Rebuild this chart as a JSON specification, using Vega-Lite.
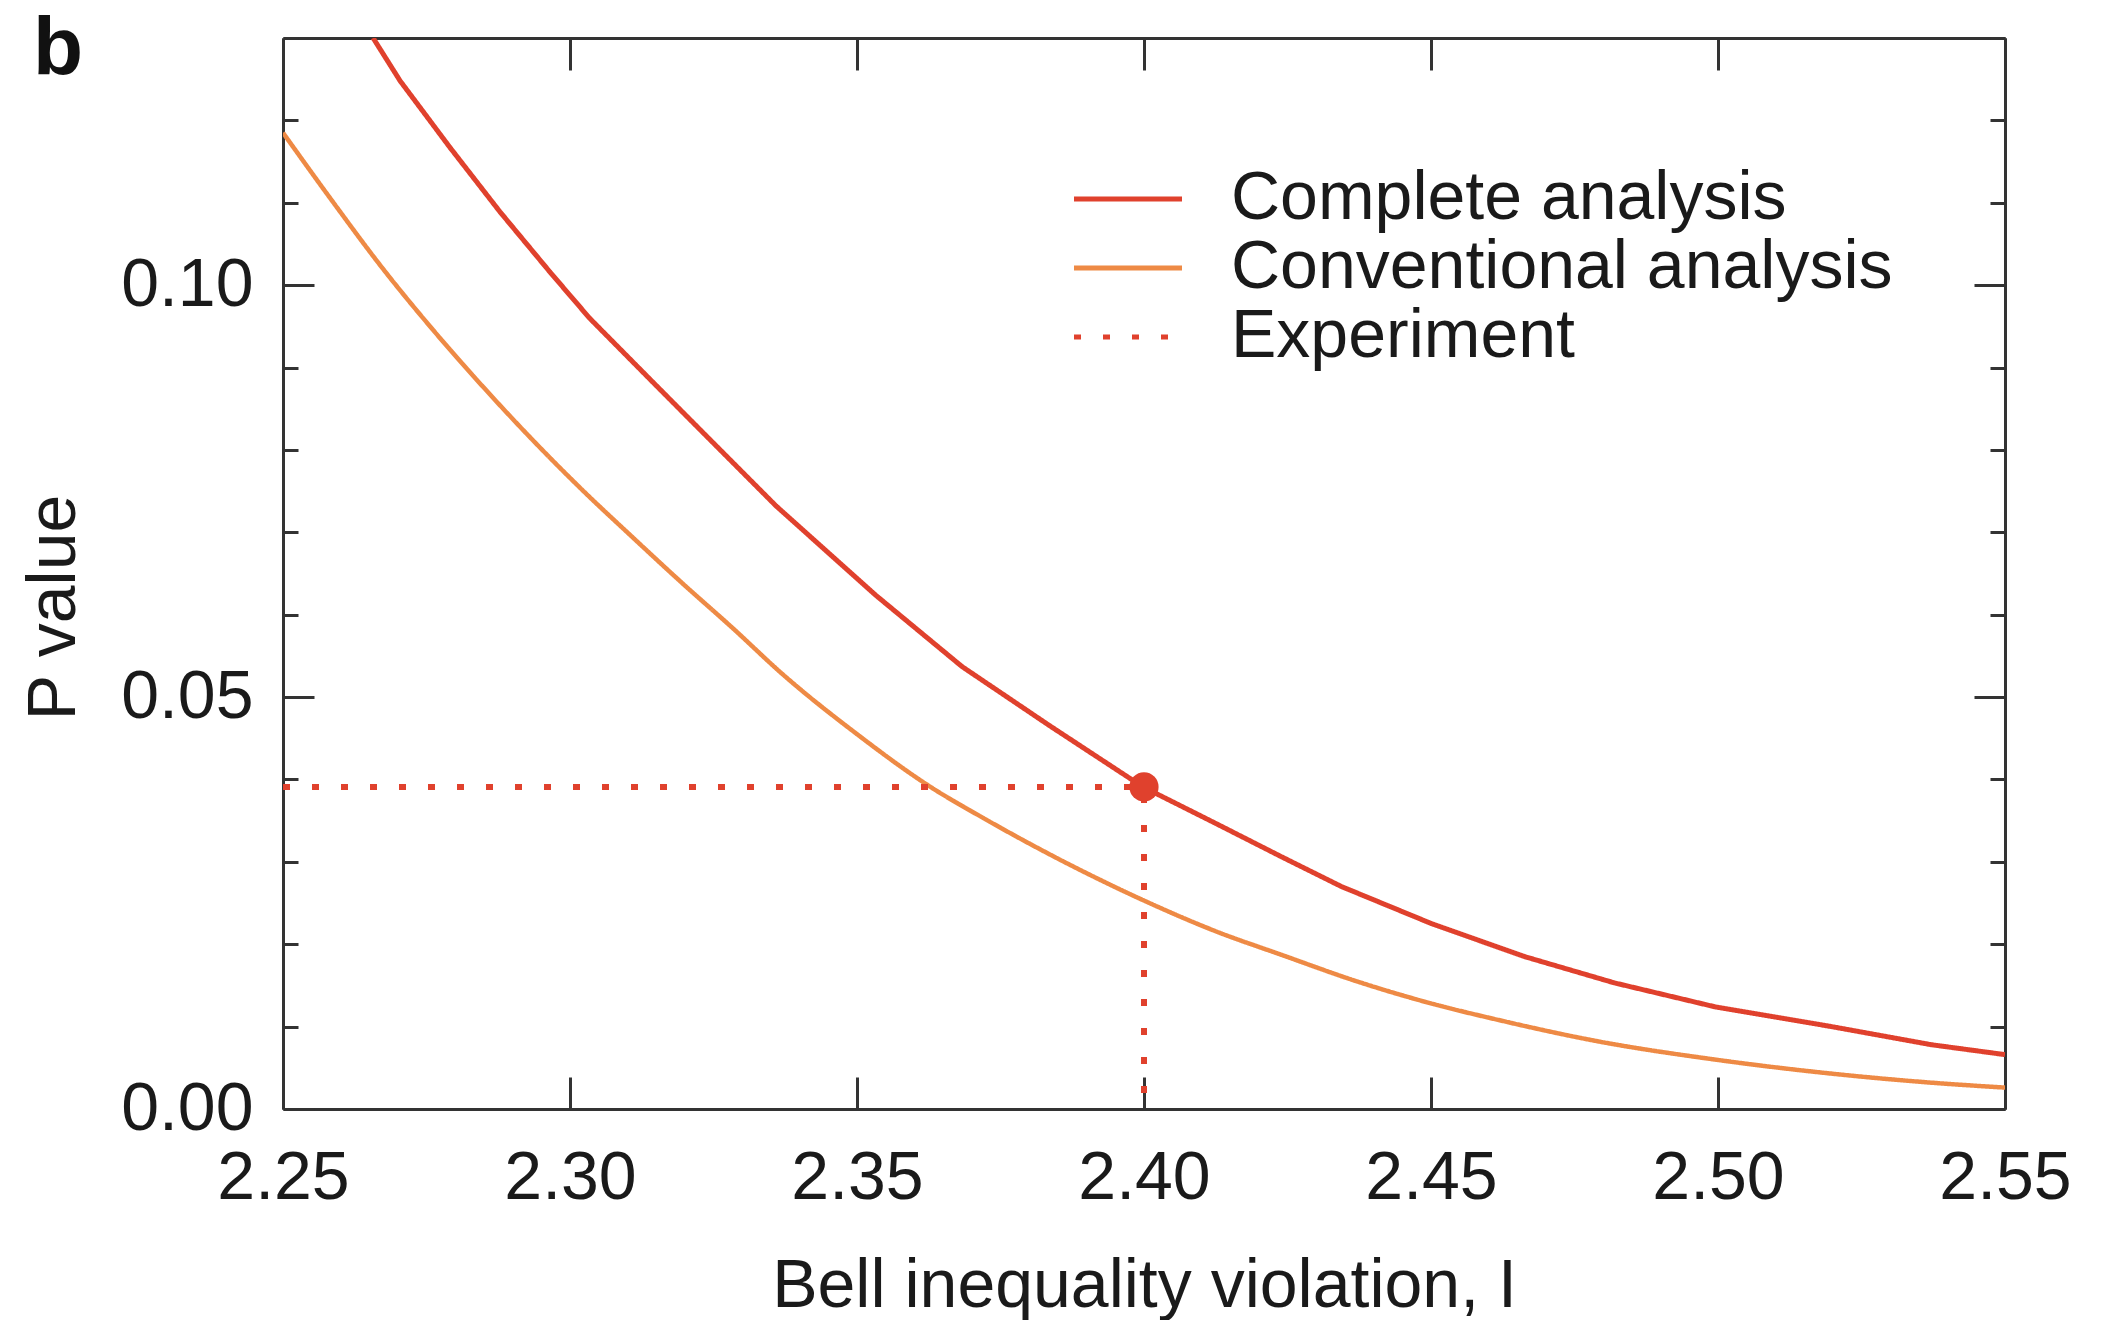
{
  "$schema": "https://vega.github.io/schema/vega-lite/v6.json",
  "autosize": "none",
  "width": 1722,
  "height": 1071,
  "padding": {"top": 38, "left": 283, "right": 100, "bottom": 211},
  "background": "white",
  "config": {
    "font": "Liberation Sans",
    "view": {"stroke": null},
    "axis": {"labelFont": "Liberation Sans", "titleFont": "Liberation Sans", "labelColor": "#1a1a1a", "titleColor": "#1a1a1a", "domainColor": "#333333", "tickColor": "#333333", "domainWidth": 3, "tickWidth": 3, "grid": false, "labelFontSize": 68, "titleFontSize": 68, "titleFontWeight": "normal"},
    "legend": {"labelFont": "Liberation Sans", "labelFontSize": 68, "labelColor": "#1a1a1a", "labelLimit": 0}
  },
  "title": {"text": "b", "anchor": "start", "frame": "group", "orient": "top", "fontSize": 82, "fontWeight": "bold", "font": "Liberation Sans", "color": "#111111", "baseline": "alphabetic", "offset": 0, "dy": 119, "dx": -250},
  "data": {"values": [
    {"series": "Complete analysis", "I": 2.2657, "P": 0.1300, "ord": 1},
    {"series": "Complete analysis", "I": 2.2704, "P": 0.1248, "ord": 2},
    {"series": "Complete analysis", "I": 2.2791, "P": 0.1167, "ord": 3},
    {"series": "Complete analysis", "I": 2.2878, "P": 0.1089, "ord": 4},
    {"series": "Complete analysis", "I": 2.2965, "P": 0.1016, "ord": 5},
    {"series": "Complete analysis", "I": 2.3034, "P": 0.0960, "ord": 6},
    {"series": "Complete analysis", "I": 2.3139, "P": 0.0886, "ord": 7},
    {"series": "Complete analysis", "I": 2.3226, "P": 0.0825, "ord": 8},
    {"series": "Complete analysis", "I": 2.3359, "P": 0.0732, "ord": 9},
    {"series": "Complete analysis", "I": 2.3532, "P": 0.0624, "ord": 10},
    {"series": "Complete analysis", "I": 2.3683, "P": 0.0537, "ord": 11},
    {"series": "Complete analysis", "I": 2.3834, "P": 0.0466, "ord": 12},
    {"series": "Complete analysis", "I": 2.3998, "P": 0.0391, "ord": 13},
    {"series": "Complete analysis", "I": 2.4124, "P": 0.0347, "ord": 14},
    {"series": "Complete analysis", "I": 2.4240, "P": 0.0306, "ord": 15},
    {"series": "Complete analysis", "I": 2.4344, "P": 0.0270, "ord": 16},
    {"series": "Complete analysis", "I": 2.4501, "P": 0.0225, "ord": 17},
    {"series": "Complete analysis", "I": 2.4663, "P": 0.0185, "ord": 18},
    {"series": "Complete analysis", "I": 2.4820, "P": 0.0153, "ord": 19},
    {"series": "Complete analysis", "I": 2.4995, "P": 0.0124, "ord": 20},
    {"series": "Complete analysis", "I": 2.5198, "P": 0.0100, "ord": 21},
    {"series": "Complete analysis", "I": 2.5372, "P": 0.0078, "ord": 22},
    {"series": "Complete analysis", "I": 2.5500, "P": 0.0066, "ord": 23},
    {"series": "Conventional analysis", "I": 2.2500, "P": 0.1185, "ord": 1},
    {"series": "Conventional analysis", "I": 2.2587, "P": 0.1101, "ord": 2},
    {"series": "Conventional analysis", "I": 2.2674, "P": 0.1020, "ord": 3},
    {"series": "Conventional analysis", "I": 2.2761, "P": 0.0946, "ord": 4},
    {"series": "Conventional analysis", "I": 2.2848, "P": 0.0877, "ord": 5},
    {"series": "Conventional analysis", "I": 2.2935, "P": 0.0812, "ord": 6},
    {"series": "Conventional analysis", "I": 2.3022, "P": 0.0751, "ord": 7},
    {"series": "Conventional analysis", "I": 2.3109, "P": 0.0694, "ord": 8},
    {"series": "Conventional analysis", "I": 2.3196, "P": 0.0638, "ord": 9},
    {"series": "Conventional analysis", "I": 2.3283, "P": 0.0584, "ord": 10},
    {"series": "Conventional analysis", "I": 2.3370, "P": 0.0528, "ord": 11},
    {"series": "Conventional analysis", "I": 2.3500, "P": 0.0455, "ord": 12},
    {"series": "Conventional analysis", "I": 2.3628, "P": 0.0391, "ord": 13},
    {"series": "Conventional analysis", "I": 2.3718, "P": 0.0354, "ord": 14},
    {"series": "Conventional analysis", "I": 2.3892, "P": 0.0289, "ord": 15},
    {"series": "Conventional analysis", "I": 2.4000, "P": 0.0253, "ord": 16},
    {"series": "Conventional analysis", "I": 2.4124, "P": 0.0216, "ord": 17},
    {"series": "Conventional analysis", "I": 2.4240, "P": 0.0187, "ord": 18},
    {"series": "Conventional analysis", "I": 2.4375, "P": 0.0154, "ord": 19},
    {"series": "Conventional analysis", "I": 2.4501, "P": 0.0128, "ord": 20},
    {"series": "Conventional analysis", "I": 2.4618, "P": 0.0108, "ord": 21},
    {"series": "Conventional analysis", "I": 2.4792, "P": 0.0082, "ord": 22},
    {"series": "Conventional analysis", "I": 2.4995, "P": 0.0060, "ord": 23},
    {"series": "Conventional analysis", "I": 2.5197, "P": 0.0043, "ord": 24},
    {"series": "Conventional analysis", "I": 2.5371, "P": 0.0032, "ord": 25},
    {"series": "Conventional analysis", "I": 2.5500, "P": 0.0026, "ord": 26},
    {"series": "Experiment", "I": 2.2500, "P": 0.0391, "ord": 1},
    {"series": "Experiment", "I": 2.4000, "P": 0.0391, "ord": 2},
    {"series": "Experiment", "I": 2.4000, "P": 0.0, "ord": 3}
  ]},
  "encoding": {
    "x": {"field": "I", "type": "quantitative", "scale": {"domain": [2.25, 2.55], "nice": false, "zero": false}},
    "y": {"field": "P", "type": "quantitative", "scale": {"domain": [0, 0.13], "nice": false}},
    "color": {"field": "series", "type": "nominal", "title": null,
      "scale": {"domain": ["Complete analysis", "Conventional analysis", "Experiment"], "range": ["#e0412d", "#ee8a45", "#e0412d"]},
      "legend": {"orient": "none", "legendX": 784, "legendY": 127, "symbolType": "M-1,0H3", "symbolSize": 2916, "symbolStrokeWidth": 5, "labelOffset": 96, "rowPadding": 1, "labelBaseline": "middle"}},
    "strokeDash": {"field": "series", "type": "nominal", "title": null,
      "scale": {"domain": ["Complete analysis", "Conventional analysis", "Experiment"], "range": [[1, 0], [1, 0], [7, 22]]},
      "legend": {"orient": "none", "legendX": 784, "legendY": 127, "symbolType": "M-1,0H3", "symbolSize": 2916, "symbolStrokeWidth": 5, "labelOffset": 96, "rowPadding": 1, "labelBaseline": "middle"}},
    "order": {"field": "ord", "type": "quantitative"}
  },
  "layer": [
    {
      "transform": [{"filter": "datum.series === 'Complete analysis'"}],
      "mark": {"type": "line", "strokeWidth": 5, "clip": true},
      "encoding": {
        "x": {"field": "I", "type": "quantitative", "title": "Bell inequality violation, I",
          "axis": {"orient": "bottom", "values": [2.25, 2.3, 2.35, 2.4, 2.45, 2.5, 2.55], "format": ".2f", "tickSize": -32, "labelPadding": 67, "titlePadding": 40, "labelFlush": false}},
        "y": {"field": "P", "type": "quantitative", "title": "P value",
          "axis": {"orient": "left", "values": [0, 0.01, 0.02, 0.03, 0.04, 0.05, 0.06, 0.07, 0.08, 0.09, 0.1, 0.11, 0.12, 0.13],
            "labelExpr": "round(datum.value*100) % 5 === 0 ? format(datum.value, '.2f') : ''",
            "tickSize": {"condition": {"test": "round(datum.value*100) % 5 === 0", "value": -31}, "value": -15},
            "labelPadding": 61, "titlePadding": 32, "titleY": 569, "labelFlush": false}}
      }
    },
    {
      "transform": [{"filter": "datum.series === 'Conventional analysis'"}],
      "mark": {"type": "line", "strokeWidth": 4.5, "clip": true, "interpolate": "monotone"},
      "encoding": {
        "x": {"field": "I", "type": "quantitative", "axis": null},
        "y": {"field": "P", "type": "quantitative", "axis": null}
      }
    },
    {
      "transform": [{"filter": "datum.series === 'Experiment'"}],
      "mark": {"type": "line", "strokeWidth": 6, "clip": true},
      "encoding": {
        "x": {"field": "I", "type": "quantitative", "axis": null},
        "y": {"field": "P", "type": "quantitative", "axis": null}
      }
    },
    {
      "transform": [{"filter": "datum.series === 'Experiment' && datum.ord === 2"}],
      "mark": {"type": "point", "filled": true, "opacity": 1, "size": 850, "color": "#e0412d"},
      "encoding": {
        "color": {"value": "#e0412d"},
        "strokeDash": {"value": [1, 0]},
        "order": {"value": 0},
        "x": {"field": "I", "type": "quantitative",
          "axis": {"orient": "top", "values": [2.25, 2.3, 2.35, 2.4, 2.45, 2.5, 2.55], "labels": false, "tickSize": -32, "title": null}},
        "y": {"field": "P", "type": "quantitative",
          "axis": {"orient": "right", "values": [0, 0.01, 0.02, 0.03, 0.04, 0.05, 0.06, 0.07, 0.08, 0.09, 0.1, 0.11, 0.12, 0.13], "labels": false, "title": null,
            "tickSize": {"condition": {"test": "round(datum.value*100) % 5 === 0", "value": -31}, "value": -15}}}
      }
    }
  ],
  "resolve": {"axis": {"x": "independent", "y": "independent"}}
}
